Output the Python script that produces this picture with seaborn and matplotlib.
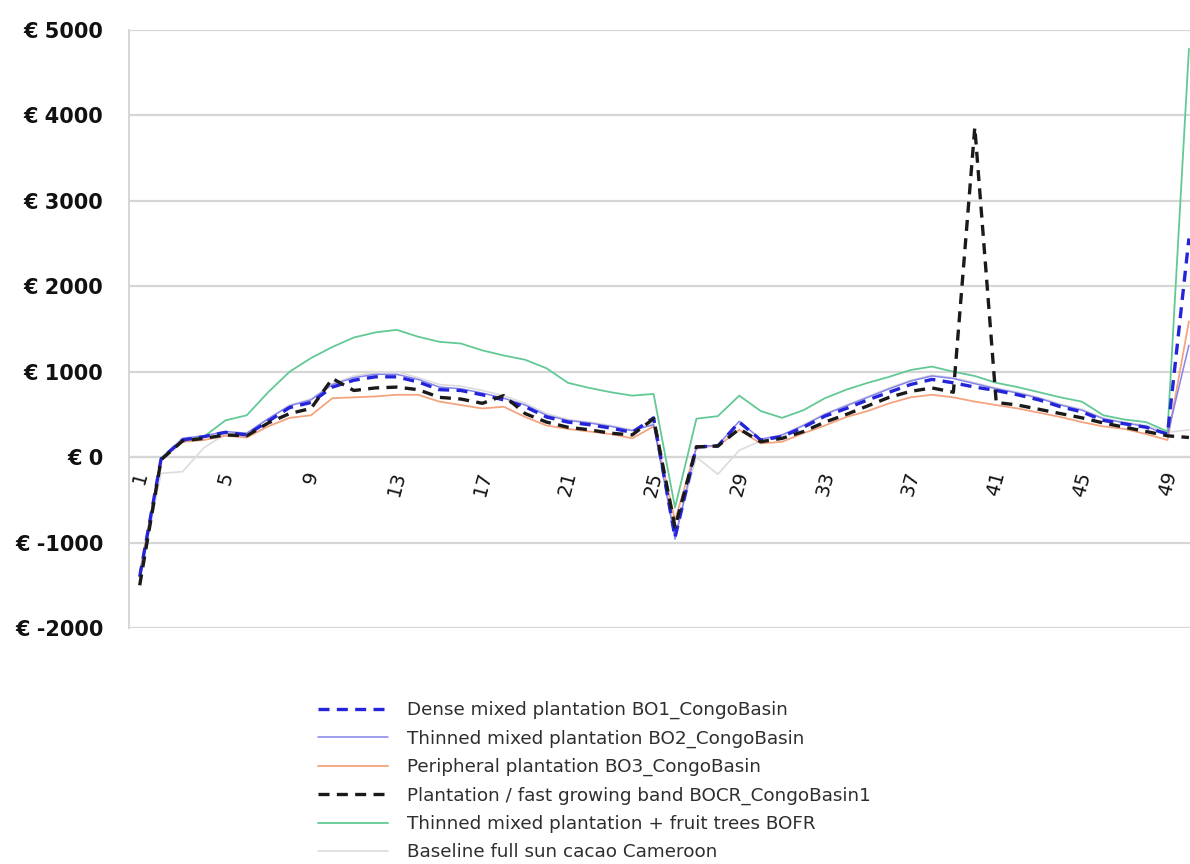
import numpy as np
import pandas as pd
import matplotlib
matplotlib.use("Agg")
import matplotlib.pyplot as plt
import seaborn as sns

# ---------------- data ----------------
years = list(range(1, 51))

bo1_dense = [-1400, -20, 200, 240, 290, 260, 420, 580, 640, 820,
             900, 940, 940, 880, 790, 780, 730, 670, 590, 470,
             410, 380, 340, 290, 460, -940, 120, 130, 410, 200,
             240, 350, 480, 570, 670, 760, 850, 910, 870, 820,
             780, 730, 670, 590, 530, 430, 390, 350, 270, 2560]

bo2_thinned = [-1380, -10, 220, 250, 300, 280, 450, 600, 670, 850,
               930, 970, 970, 910, 820, 800, 750, 690, 610, 490,
               430, 400, 360, 310, 380, -960, 120, 140, 420, 210,
               260, 370, 500, 600, 700, 800, 890, 950, 920, 860,
               800, 750, 690, 610, 550, 450, 400, 360, 260, 1310]

bo3_peripheral = [-1350, -30, 180, 200, 250, 230, 360, 460, 490, 690,
                  700, 710, 730, 730, 650, 610, 570, 590, 470, 370,
                  330, 300, 270, 220, 360, -740, 120, 130, 320, 160,
                  180, 280, 370, 470, 540, 630, 700, 730, 700, 650,
                  610, 570, 520, 470, 410, 360, 330, 270, 200, 1590]

bocr_band = [-1500, -30, 190, 220, 260, 250, 400, 510, 570, 920,
             780, 810, 820, 790, 700, 680, 630, 720, 510, 410,
             350, 320, 280, 260, 450, -820, 120, 130, 330, 180,
             220, 300, 410, 500, 600, 700, 770, 810, 760, 3860,
             640, 610, 560, 510, 460, 400, 350, 300, 250, 230]

bofr_fruit = [-1400, -10, 200, 240, 430, 490, 760, 1000, 1160, 1290,
              1400, 1460, 1490, 1410, 1350, 1330, 1250, 1190, 1140, 1040,
              870, 810, 760, 720, 740, -590, 450, 480, 720, 540,
              460, 550, 690, 790, 870, 940, 1020, 1060, 1000, 950,
              870, 820, 760, 700, 650, 490, 440, 410, 300, 4780]

baseline_sun = [-1400, -190, -170, 110, 270, 280, 450, 610, 680, 860,
                950, 990, 1000, 930, 850, 830, 780, 720, 630, 510,
                440, 410, 370, 320, 400, -900, 0, -200, 80, 190,
                260, 380, 510, 610, 710, 810, 900, 960, 930, 870,
                810, 760, 700, 620, 560, 460, 410, 370, 290, 320]

series_names = [
    "Dense mixed plantation BO1_CongoBasin",
    "Thinned mixed plantation BO2_CongoBasin",
    "Peripheral plantation BO3_CongoBasin",
    "Plantation / fast growing band BOCR_CongoBasin1",
    "Thinned mixed plantation + fruit trees BOFR",
    "Baseline full sun cacao Cameroon",
]
series_values = [bo1_dense, bo2_thinned, bo3_peripheral, bocr_band, bofr_fruit, baseline_sun]

y_ticks = [-2000, -1000, 0, 1000, 2000, 3000, 4000, 5000]
x_label_years = list(range(1, 50, 4))

# ---------------- styles ----------------
styles = {
    series_names[0]: dict(color="#2424d8", lw=2.4, ls=(0, (3.3, 2.2)), z=6),
    series_names[1]: dict(color="#8484ee", lw=1.1, ls="-", z=5),
    series_names[2]: dict(color="#f4a47e", lw=1.3, ls="-", z=4),
    series_names[3]: dict(color="#1a1a1a", lw=2.4, ls=(0, (3.3, 2.2)), z=7),
    series_names[4]: dict(color="#62c995", lw=1.3, ls="-", z=3),
    series_names[5]: dict(color="#dcdcdc", lw=1.2, ls="-", z=2.8),
}

sns.set_style("white")
plt.rcParams["font.family"] = ["DejaVu Sans"]

df = pd.DataFrame({
    "year": np.tile(years, len(series_names)),
    "value": np.concatenate([np.array(v, dtype=float) for v in series_values]),
    "series": np.repeat(series_names, len(years)),
})

fig = plt.figure(figsize=(11.9, 8.64), dpi=100)
ax = fig.add_axes([129 / 1190, 1 - 628 / 864, 1 - 129 / 1190, (628 - 30) / 864])

for name in series_names:
    st = styles[name]
    sub = df[df["series"] == name]
    sns.lineplot(data=sub, x="year", y="value", ax=ax, color=st["color"],
                 linewidth=st["lw"], linestyle=st["ls"], zorder=st["z"],
                 label=name, estimator=None, sort=True)

ax.set_xlim(0.5, 50.05)
ax.set_ylim(-2000, 5000)
ax.set_xlabel("")
ax.set_ylabel("")

grid_c = "#d6d6d6"
ax.set_yticks(y_ticks)
ax.set_yticklabels([f"€ {v}" for v in y_ticks], fontsize=15, fontweight="bold", color="#111111")
ax.yaxis.grid(True, color=grid_c, lw=1.6)
ax.xaxis.grid(False)
ax.set_axisbelow(True)
ax.tick_params(axis="y", length=5, color=grid_c, width=1.2, pad=13.5)

for s in ["top", "right"]:
    ax.spines[s].set_visible(False)
ax.spines["left"].set_color(grid_c)
ax.spines["left"].set_linewidth(1.4)
ax.spines["bottom"].set_position(("data", 0))
ax.spines["bottom"].set_color(grid_c)
ax.spines["bottom"].set_linewidth(1.6)
ax.spines["bottom"].set_zorder(1)

ax.set_xticks([y + 3.5 for y in x_label_years[:-1]] + [48.5])
ax.set_xticklabels([])
ax.tick_params(axis="x", which="major", length=6, color="#c8c8c8", width=1.2, direction="out")
ax.set_xticks(x_label_years, minor=True)
ax.set_xticklabels([str(y) for y in x_label_years], minor=True, rotation=75,
                   fontsize=14, ha="center", va="top", color="#111111")
ax.tick_params(axis="x", which="minor", length=0, pad=9)

handles, labels = ax.get_legend_handles_labels()
if ax.get_legend() is not None:
    ax.get_legend().remove()
leg = fig.legend(handles, labels, loc="upper left", bbox_to_anchor=(318 / 1190, 1 - 701 / 864),
                 frameon=False, handlelength=3.8, handletextpad=1.05,
                 labelspacing=0.56, borderaxespad=0, borderpad=0,
                 prop={"family": ["DejaVu Sans"], "size": 13.2})
for t in leg.get_texts():
    t.set_color("#2e2e2e")

fig.savefig("out.png", dpi=100)
